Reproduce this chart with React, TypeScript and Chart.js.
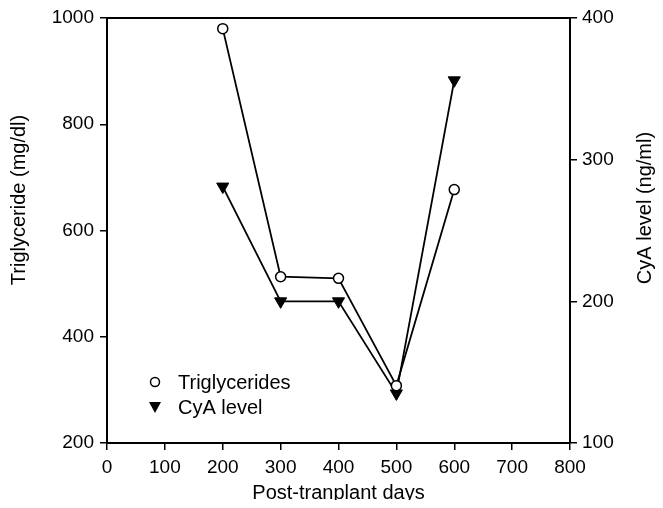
import React, { useEffect, useRef } from "react";
import { Chart, registerables } from "chart.js";

Chart.register(...registerables);

const days = [200, 300, 400, 500, 600];
const triglycerides = [980, 513, 510, 308, 677];
const cyaLevel = [281, 200, 200, 135, 356];

const xTicks = [0, 100, 200, 300, 400, 500, 600, 700, 800];
const leftTicks = [200, 400, 600, 800, 1000];
const rightTicks = [100, 200, 300, 400];

const xTitle = "Post-tranplant days";
const leftTitle = "Triglyceride (mg/dl)";
const rightTitle = "CyA level (ng/ml)";
const seriesLabels = ["Triglycerides", "CyA level"];

const FONT = "'Liberation Sans', Arial, Helvetica, sans-serif";

const decorPlugin = {
  id: "decor",
  afterDraw(chart: any) {
    const ctx = chart.ctx;
    const ca = chart.chartArea;
    ctx.save();
    // top frame line
    ctx.strokeStyle = "#000";
    ctx.lineWidth = 2;
    ctx.beginPath();
    ctx.moveTo(ca.left, ca.top);
    ctx.lineTo(ca.right, ca.top);
    ctx.stroke();

    ctx.fillStyle = "#000";
    ctx.font = `20px ${FONT}`;
    ctx.textAlign = "center";
    ctx.textBaseline = "middle";
    // x title
    ctx.fillText(xTitle, (ca.left + ca.right) / 2, 485);
    // left title
    ctx.save();
    ctx.translate(11, 192);
    ctx.rotate(-Math.PI / 2);
    ctx.fillText(leftTitle, 0, 0);
    ctx.restore();
    // right title
    ctx.save();
    ctx.translate(637, 200);
    ctx.rotate(-Math.PI / 2);
    ctx.fillText(rightTitle, 0, 0);
    ctx.restore();

    // legend
    const items = chart.data.datasets;
    const lx = 147;
    const ly = [374, 399];
    items.forEach((ds: any, i: number) => {
      const y = ly[i];
      ctx.save();
      ctx.strokeStyle = "#000";
      ctx.fillStyle = ds.pointBackgroundColor;
      ctx.lineWidth = 1.5;
      if (ds.pointStyle === "circle") {
        ctx.beginPath();
        ctx.arc(lx, y, 4.5, 0, Math.PI * 2);
        ctx.fill();
        ctx.stroke();
      } else {
        ctx.fillStyle = "#000";
        ctx.beginPath();
        ctx.moveTo(lx - 6, y - 5);
        ctx.lineTo(lx + 6, y - 5);
        ctx.lineTo(lx, y + 6);
        ctx.closePath();
        ctx.fill();
      }
      ctx.restore();
      ctx.fillStyle = "#000";
      ctx.textAlign = "left";
      ctx.font = `20px ${FONT}`;
      ctx.fillText(ds.label, lx + 23, y + 1);
    });
    ctx.restore();
  },
};

export default function App() {
  const ref = useRef<HTMLCanvasElement | null>(null);
  useEffect(() => {
    if (!ref.current) return;
    const tickFont = { family: FONT, size: 19, lineHeight: 1 };
    const gridOpts = {
      display: true,
      drawOnChartArea: false,
      drawTicks: true,
      tickLength: 7,
      color: "#000",
      lineWidth: 1.5,
    };
    const plain = (v: any) => String(v);
    const chart = new Chart(ref.current, {
      type: "line",
      data: {
        datasets: [
          {
            label: seriesLabels[0],
            data: days.map((d, i) => ({ x: d, y: triglycerides[i] })),
            yAxisID: "y",
            borderColor: "#000",
            borderWidth: 1.8,
            pointStyle: "circle",
            pointRadius: 5,
            pointBorderWidth: 1.5,
            pointBackgroundColor: "#fff",
            pointBorderColor: "#000",
            tension: 0,
            order: 1,
          },
          {
            label: seriesLabels[1],
            data: days.map((d, i) => ({ x: d, y: cyaLevel[i] })),
            yAxisID: "y1",
            borderColor: "#000",
            borderWidth: 1.8,
            pointStyle: "triangle",
            pointRotation: 180,
            pointRadius: 7,
            pointBorderWidth: 1,
            pointBackgroundColor: "#000",
            pointBorderColor: "#000",
            tension: 0,
            order: 2,
          },
        ],
      },
      options: {
        responsive: false,
        animation: false,
        devicePixelRatio: 1,
        layout: { padding: { top: 10, left: 0, right: 0, bottom: 0 } },
        plugins: {
          legend: { display: false },
          tooltip: { enabled: false },
        },
        scales: {
          x: {
            type: "linear",
            min: 0,
            max: 800,
            afterBuildTicks: (s: any) => {
              s.ticks = xTicks.map((v) => ({ value: v }));
            },
            afterFit: (s: any) => {
              s.height = 57;
              s.paddingLeft = 0;
              s.paddingRight = 0;
            },
            ticks: { font: tickFont, color: "#000", padding: 8, maxRotation: 0, autoSkip: false, callback: plain },
            grid: gridOpts,
            border: { display: true, color: "#000", width: 2 },
          },
          y: {
            position: "left",
            min: 200,
            max: 1000,
            afterBuildTicks: (s: any) => {
              s.ticks = leftTicks.map((v) => ({ value: v }));
            },
            afterFit: (s: any) => {
              s.width = 99;
              s.paddingTop = 0;
              s.paddingBottom = 0;
            },
            ticks: { font: tickFont, color: "#000", padding: 6, callback: plain },
            grid: gridOpts,
            border: { display: true, color: "#000", width: 2 },
          },
          y1: {
            position: "right",
            min: 100,
            max: 400,
            afterBuildTicks: (s: any) => {
              s.ticks = rightTicks.map((v) => ({ value: v }));
            },
            afterFit: (s: any) => {
              s.width = 85;
              s.paddingTop = 0;
              s.paddingBottom = 0;
            },
            ticks: { font: tickFont, color: "#000", padding: 5, callback: plain },
            grid: gridOpts,
            border: { display: true, color: "#000", width: 2 },
          },
        },
      } as any,
      plugins: [decorPlugin],
    });
    return () => chart.destroy();
  }, []);
  return (
    <div style={{ width: 647, height: 492 }}>
      <canvas ref={ref} width={647} height={492} style={{ display: "block" }} />
    </div>
  );
}
